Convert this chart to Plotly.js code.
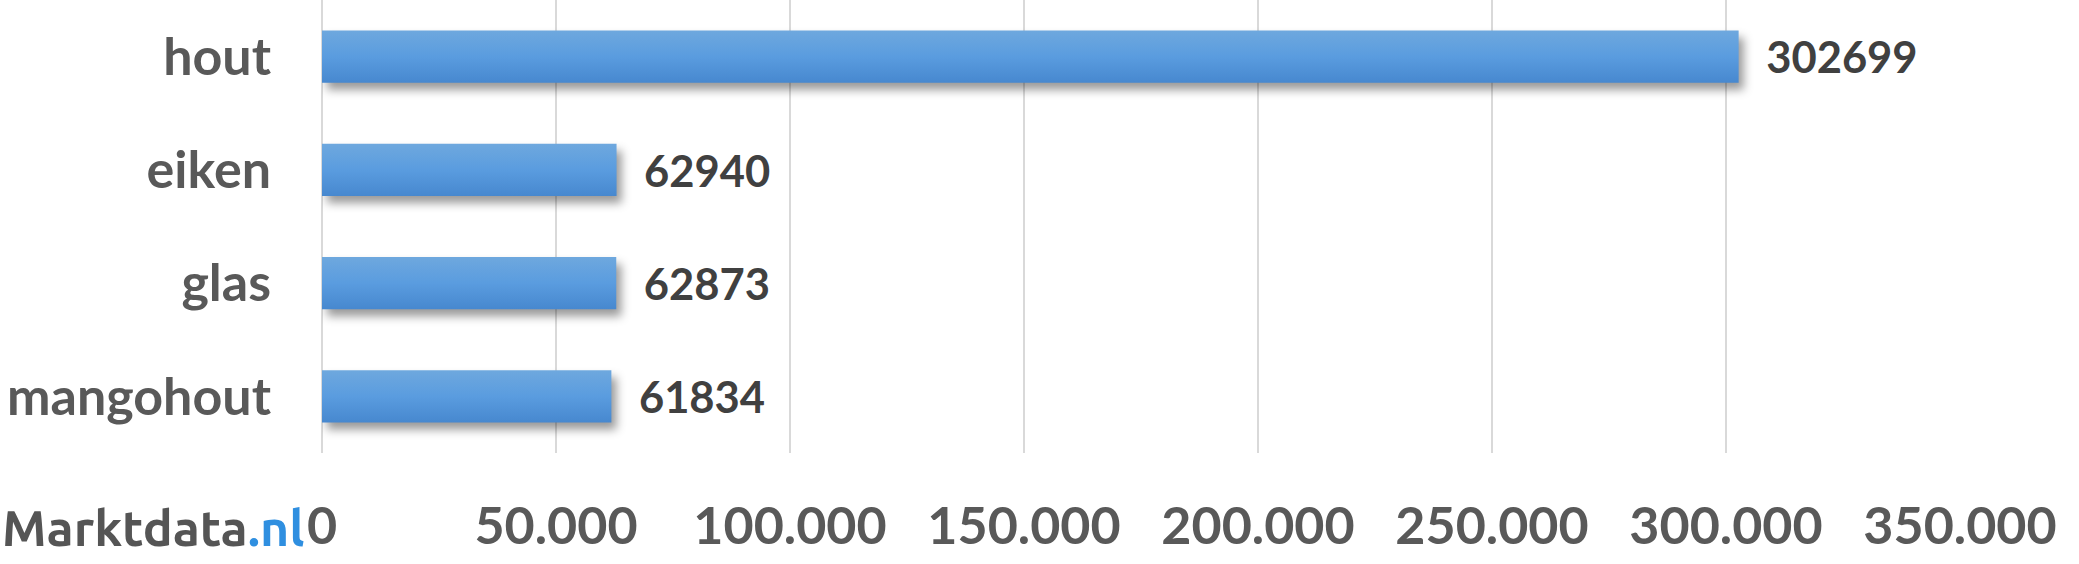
<!DOCTYPE html>
<html>
<head>
<meta charset="utf-8">
<script src="https://cdn.plot.ly/plotly-3.0.1.min.js"></script>
<style>
  html, body { margin: 0; padding: 0; background: #fff; }
  #chart { width: 2079px; height: 564px; }
</style>
</head>
<body>
<div id="chart"></div>
<script>
// categories top to bottom
const categories = ['hout', 'eiken', 'glas', 'mangohout'];
const counts = [302699, 62940, 62873, 61834];
const tickValues = [0, 50000, 100000, 150000, 200000, 250000, 300000, 350000];

const labelFont = 'Lato, "Open Sans", sans-serif';

const trace = {
    type: 'bar',
    orientation: 'h',
    y: categories,
    x: counts,
    text: counts.map(String),
    texttemplate: '\u2002\u200a%{text}',
    textposition: 'outside',
    cliponaxis: false,
    textfont: { family: labelFont, size: 56, color: '#404040', weight: 700 },
    marker: { color: '#5a9bdc' },
    width: 0.46,
    hoverinfo: 'none'
};

const layout = {
    width: 2079,
    height: 564,
    margin: { l: 322, r: 119, t: 0, b: 111 },
    paper_bgcolor: '#fff',
    plot_bgcolor: '#fff',
    showlegend: false,
    separators: ',.',
    xaxis: {
        range: [0, 350000],
        tickvals: tickValues,
        tickformat: ',d',
        showgrid: true,
        gridcolor: '#d9d9d9',
        gridwidth: 2,
        zeroline: true,
        zerolinecolor: '#d9d9d9',
        zerolinewidth: 2,
        showline: false,
        ticks: '',
        ticklabelstandoff: 38,
        tickfont: { family: labelFont, size: 52, color: '#595959', weight: 700 },
        fixedrange: true
    },
    yaxis: {
        autorange: 'reversed',
        showgrid: false,
        zeroline: false,
        showline: false,
        ticks: '',
        ticklabelstandoff: 50,
        tickfont: { family: labelFont, size: 52, color: '#595959', weight: 700 },
        fixedrange: true
    },
    annotations: [{
        xref: 'paper', yref: 'paper',
        x: -0.1966, y: -0.163,
        xanchor: 'left', yanchor: 'middle',
        showarrow: false,
        text: 'Marktdata<span style="color:#2f8fe0">.nl</span>',
        font: { family: 'Ubuntu, "Open Sans", sans-serif', size: 50, color: '#555555', weight: 700 }
    }]
};

Plotly.newPlot('chart', [trace], layout, { displayModeBar: false, staticPlot: true }).then(gd => {
    // Excel-like gradient and shadow on the bars
    const svg = gd.querySelector('.main-svg');
    const ns = 'http://www.w3.org/2000/svg';
    let defs = svg.querySelector('defs');
    const grad = document.createElementNS(ns, 'linearGradient');
    grad.setAttribute('id', 'barGrad');
    grad.setAttribute('x1', '0'); grad.setAttribute('y1', '0');
    grad.setAttribute('x2', '0'); grad.setAttribute('y2', '1');
    [['0%', '#6ea8de'], ['50%', '#5a9cdf'], ['100%', '#4788cf']].forEach(([o, c]) => {
        const s = document.createElementNS(ns, 'stop');
        s.setAttribute('offset', o);
        s.setAttribute('stop-color', c);
        grad.appendChild(s);
    });
    defs.appendChild(grad);
    gd.querySelectorAll('.bars .point path').forEach(p => {
        p.style.fill = 'url(#barGrad)';
        p.style.filter = 'drop-shadow(5px 7px 5px rgba(0,0,0,0.4))';
    });
});
</script>
</body>
</html>
